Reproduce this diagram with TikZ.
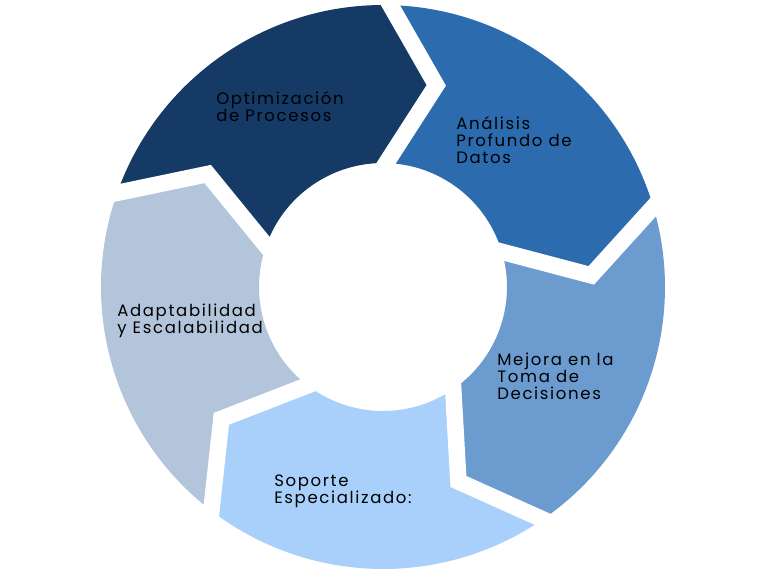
\documentclass[tikz,border=0pt]{standalone}
\usepackage{fontspec}
\setmainfont[LetterSpace=10]{Poppins}
\usetikzlibrary{calc}

\newcommand{\segFont}{\fontsize{9.4}{9.64}\selectfont\lineskiplimit=-100pt\relax}

\tikzset{
    segLabel/.style={anchor=base west, align=left, inner sep=0pt, text=black, font=\segFont},
    gapLine/.style={white, line width=9.4pt, line join=miter}
}

\begin{document}
\begin{tikzpicture}[x=0.02cm, y=0.02cm]
    % Define colours
    \definecolor{optColour}{HTML}{153A66}
    \definecolor{anaColour}{HTML}{2B6BAE}
    \definecolor{mejColour}{HTML}{6C9CCF}
    \definecolor{sopColour}{HTML}{A8D0FB}
    \definecolor{adaColour}{HTML}{B3C5DA}

    % Define ring sizes
    \def\outerRadius{282}
    \def\innerRadius{124}
    \def\tipRadius{208.6}
    \def\tipShift{13.3}

    % Fix picture size
    \useasboundingbox (-383,-289) rectangle (385,287);

    % Draw ring segments
    \foreach \a/\col in {160.5/optColour, 88.5/anaColour, 16.5/mejColour, -55.5/sopColour, -127.5/adaColour}
        \fill[\col] (\a:\outerRadius) arc[start angle=\a, delta angle=-72, radius=\outerRadius]
            -- ({\a-72-\tipShift}:\tipRadius) -- ({\a-72}:\innerRadius)
            arc[start angle={\a-72}, delta angle=72, radius=\innerRadius]
            -- ({\a-\tipShift}:\tipRadius) -- cycle;

    % Draw gaps between segments
    \foreach \a in {160.5, 88.5, 16.5, -55.5, -127.5} {
        \coordinate (outer) at (\a:\outerRadius);
        \coordinate (tip) at ({\a-\tipShift}:\tipRadius);
        \coordinate (inner) at (\a:\innerRadius);
        \draw[gapLine] ($(outer)!-0.3!(tip)$) -- (tip) -- ($(inner)!-0.3!(tip)$);
    }

    % Label segments (placed at the baseline of the last line)
    \node[segLabel] (opt) at (-167, 165.5) {Optimización\\de Procesos};
    \node[segLabel] (ana) at (73, 123.7) {Análisis\\Profundo de\\Datos};
    \node[segLabel] (mej) at (114, -112) {Mejora en la\\Toma de\\Decisiones};
    \node[segLabel] (sop) at (-109, -216.7) {Soporte\\Especializado:};
    \node[segLabel] (ada) at (-266, -46) {Adaptabilidad\\y Escalabilidad};

\end{tikzpicture}
\end{document}
